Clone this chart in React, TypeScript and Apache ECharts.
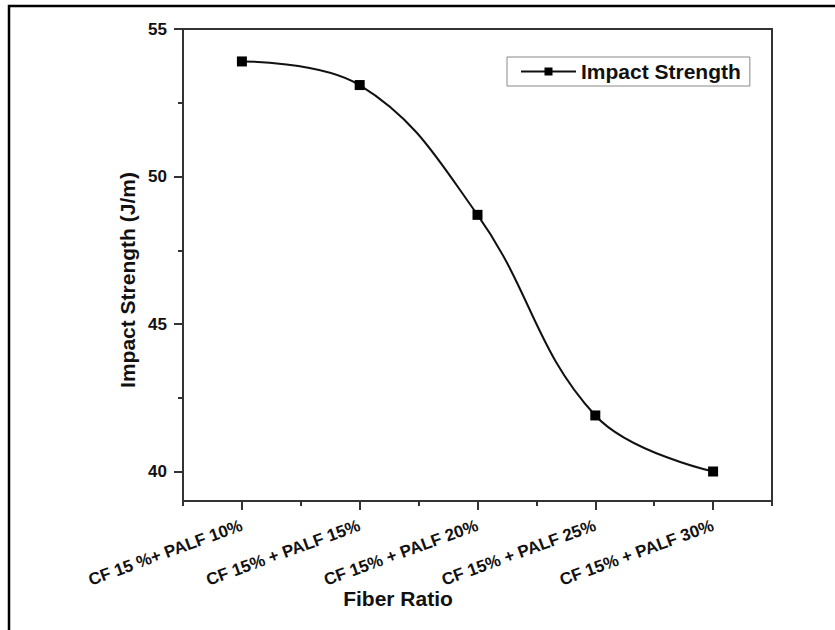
import React, { useEffect, useRef } from "react";
import * as echarts from "echarts";

const categories = [
  "CF 15 %+ PALF 10%",
  "CF 15% + PALF 15%",
  "CF 15% + PALF 20%",
  "CF 15% + PALF 25%",
  "CF 15% + PALF 30%",
];
const impactStrength = [53.9, 53.1, 48.7, 41.9, 40.0];
const yMajorTicks = [40, 45, 50, 55];
const yMinorTicks = [42.5, 47.5, 52.5];
const seriesName = "Impact Strength";
const xTitle = "Fiber Ratio";
const yTitle = "Impact Strength (J/m)";

const FONT = "'Liberation Sans', Arial, Helvetica, sans-serif";
const AXIS_COLOR = "#333";

export default function App() {
  const ref = useRef<HTMLDivElement>(null);

  useEffect(() => {
    if (!ref.current) return;
    const chart = echarts.init(ref.current, undefined, { renderer: "svg" });
    chart.setOption({
      animation: false,
      backgroundColor: "#fff",
      grid: {
        left: 183,
        top: 29,
        right: 63,
        bottom: 129,
        show: true,
        borderColor: AXIS_COLOR,
        borderWidth: 2,
        containLabel: false,
      },
      legend: {
        data: [seriesName],
        left: 507,
        top: 57,
        orient: "horizontal",
        borderColor: "#888",
        borderWidth: 1,
        padding: [4, 9, 4, 13],
        itemWidth: 55,
        itemHeight: 10,
        textStyle: {
          fontFamily: FONT,
          fontWeight: "bold",
          fontSize: 21,
          color: "#111",
        },
      },
      xAxis: [
        {
          type: "category",
          data: categories,
          boundaryGap: true,
          position: "bottom",
          axisLine: { show: true, lineStyle: { color: AXIS_COLOR, width: 2 } },
          axisTick: {
            show: true,
            alignWithLabel: true,
            interval: 0,
            length: 9,
            lineStyle: { color: AXIS_COLOR, width: 2 },
          },
          axisLabel: {
            interval: 0,
            rotate: 20,
            margin: 24,
            fontFamily: FONT,
            fontWeight: "bold",
            fontSize: 17,
            color: "#111",
          },
          splitLine: { show: false },
        },
        {
          type: "category",
          data: categories,
          boundaryGap: true,
          position: "bottom",
          axisLine: { show: false },
          axisTick: {
            show: true,
            interval: 0,
            length: 5,
            lineStyle: { color: AXIS_COLOR, width: 2 },
          },
          axisLabel: { show: false },
          splitLine: { show: false },
        },
      ],
      yAxis: [
        {
          type: "value",
          min: 39,
          max: 55,
          position: "left",
          axisLine: { show: true, lineStyle: { color: AXIS_COLOR, width: 2 } },
          axisTick: {
            show: true,
            length: 9,
            customValues: yMajorTicks,
            lineStyle: { color: AXIS_COLOR, width: 2 },
          },
          axisLabel: {
            customValues: yMajorTicks,
            margin: 16,
            fontFamily: FONT,
            fontWeight: "bold",
            fontSize: 17,
            color: "#111",
          },
          splitLine: { show: false },
        },
        {
          type: "value",
          min: 39,
          max: 55,
          position: "left",
          axisLine: { show: false },
          axisTick: {
            show: true,
            length: 5,
            customValues: yMinorTicks,
            lineStyle: { color: AXIS_COLOR, width: 2 },
          },
          axisLabel: { show: false },
          splitLine: { show: false },
        },
      ],
      series: [
        {
          name: seriesName,
          type: "line",
          xAxisIndex: 0,
          yAxisIndex: 0,
          data: impactStrength,
          smooth: 0.4,
          symbol: "rect",
          symbolSize: 10,
          itemStyle: { color: "#000" },
          lineStyle: { color: "#111", width: 2 },
        },
      ],
      graphic: [
        {
          type: "rect",
          silent: true,
          shape: { x: 9, y: 6, width: 1000, height: 1000 },
          style: { fill: "none", stroke: "#000", lineWidth: 2.5 },
        },
        {
          type: "text",
          x: 127.5,
          y: 280,
          rotation: Math.PI / 2,
          style: {
            text: yTitle,
            fontFamily: FONT,
            fontWeight: "bold",
            fontSize: 21,
            fill: "#111",
            textAlign: "center",
            textVerticalAlign: "middle",
            align: "center",
            verticalAlign: "middle",
          },
        },
        {
          type: "text",
          x: 398,
          y: 598,
          style: {
            text: xTitle,
            fontFamily: FONT,
            fontWeight: "bold",
            fontSize: 21,
            fill: "#111",
            textAlign: "center",
            textVerticalAlign: "middle",
            align: "center",
            verticalAlign: "middle",
          },
        },
      ],
    });
    return () => {
      chart.dispose();
    };
  }, []);

  return (
    <div
      ref={ref}
      style={{ position: "fixed", left: 0, top: 0, width: 835, height: 630, background: "#fff" }}
    />
  );
}
